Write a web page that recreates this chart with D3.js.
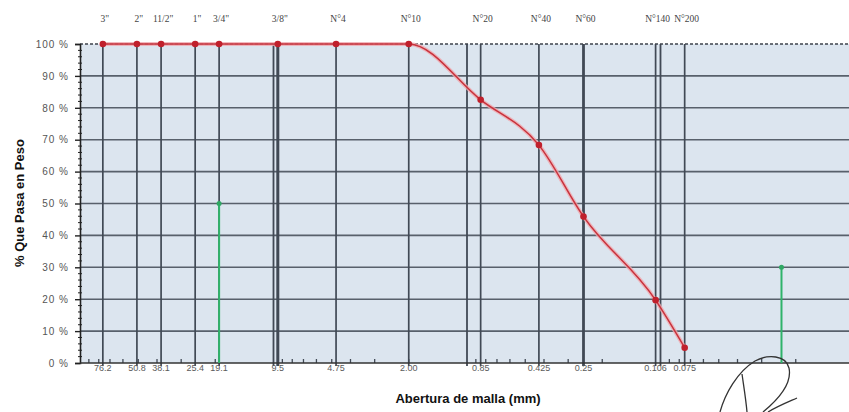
<!DOCTYPE html>
<html>
<head>
<meta charset="utf-8">
<script src="https://cdn.jsdelivr.net/npm/d3@7"></script>
<style>
  html, body { margin: 0; padding: 0; background: #ffffff; }
  svg { display: block; }
</style>
</head>
<body>
<svg id="chart" width="849" height="412"></svg>
<script>
// Sieve series: names, openings (mm) and cumulative % passing
const sieveNames = ['3"', '2"', '11/2"', '1"', '3/4"', '3/8"', 'N°4', 'N°10', 'N°20', 'N°40', 'N°60', 'N°140', 'N°200'];
const openings = [76.2, 50.8, 38.1, 25.4, 19.1, 9.5, 4.75, 2.00, 0.85, 0.425, 0.25, 0.106, 0.075];
const openingLabels = ['76.2', '50.8', '38.1', '25.4', '19.1', '9.5', '4.75', '2.00', '0.85', '0.425', '0.25', '0.106', '0.075'];
const percentPassing = [100, 100, 100, 100, 100, 100, 100, 100, 82.5, 68.3, 45.9, 19.7, 4.8];

// Green reference markers
const markerOpenings = [19.1, 0.0237];
const markerValues = [50, 30];

// Decade grid lines of the log axis
const decades = [100, 10, 1, 0.1, 0.01];
const yTicks = [0, 10, 20, 30, 40, 50, 60, 70, 80, 90, 100];

const svg = d3.select('#chart');
const plotLeft = 80, plotTop = 44, plotBottom = 363, plotRight = 849;

const x = d3.scaleLog().domain([100, 0.01]).range([plotLeft, 854]);
const y = d3.scaleLinear().domain([0, 100]).range([plotBottom, plotTop]);

const gridColor = '#414955';

// plot background
svg.append('rect')
  .attr('x', plotLeft).attr('y', plotTop)
  .attr('width', plotRight - plotLeft).attr('height', plotBottom - plotTop)
  .attr('fill', '#dce5ef');

// horizontal grid
svg.append('g').selectAll('line')
  .data(yTicks.filter(d => d > 0 && d < 100))
  .join('line')
  .attr('x1', plotLeft).attr('x2', plotRight)
  .attr('y1', d => y(d)).attr('y2', d => y(d))
  .attr('stroke', gridColor).attr('stroke-width', 1.6).attr('opacity', 0.85);

// decade vertical lines
svg.append('g').selectAll('line')
  .data(decades.filter(d => d < 100 && x(d) < plotRight))
  .join('line')
  .attr('x1', d => x(d)).attr('x2', d => x(d))
  .attr('y1', plotTop).attr('y2', plotBottom + 3)
  .attr('stroke', gridColor).attr('stroke-width', 1.8);

// sieve vertical lines
svg.append('g').selectAll('line')
  .data(openings)
  .join('line')
  .attr('x1', d => x(d)).attr('x2', d => x(d))
  .attr('y1', plotTop).attr('y2', plotBottom + 3)
  .attr('stroke', gridColor)
  .attr('stroke-width', d => d === 0.25 ? 2.8 : (d === 9.5 ? 3 : 1.7));

// minor log ticks along the bottom border
const minor = [];
decades.forEach(dec => {
  for (let k = 2; k <= 9; k++) {
    const v = dec * k / 10;
    if (v < 100 && v > 0.01) minor.push(v);
  }
});
svg.append('g').selectAll('line')
  .data(minor)
  .join('line')
  .attr('x1', d => x(d)).attr('x2', d => x(d))
  .attr('y1', plotBottom - 4).attr('y2', plotBottom)
  .attr('stroke', gridColor).attr('stroke-width', 1.3);

// top border (dashed)
svg.append('line')
  .attr('x1', plotLeft).attr('x2', plotRight)
  .attr('y1', plotTop).attr('y2', plotTop)
  .attr('stroke', '#3e434c').attr('stroke-width', 1.6)
  .attr('stroke-dasharray', '3,2');

// y axis
const yAxis = d3.axisLeft(y).tickValues(yTicks).tickFormat(d => d + ' %').tickSize(5).tickPadding(6);
const gy = svg.append('g').attr('transform', `translate(${plotLeft},0)`).call(yAxis);
gy.select('.domain').attr('stroke', '#222').attr('stroke-width', 1.6);
gy.selectAll('.tick line').attr('stroke', '#222').attr('stroke-width', 1.4);
gy.selectAll('.tick text')
  .attr('font-family', 'Liberation Sans, Arial, sans-serif')
  .attr('font-size', 10).attr('fill', '#555').attr('letter-spacing', 1);

// y minor ticks every 2 %
svg.append('g').selectAll('line')
  .data(d3.range(0, 101, 2).filter(d => d % 10 !== 0))
  .join('line')
  .attr('x1', plotLeft - 2).attr('x2', plotLeft + 2)
  .attr('y1', d => y(d)).attr('y2', d => y(d))
  .attr('stroke', '#222').attr('stroke-width', 1);

// x axis line
svg.append('line')
  .attr('x1', plotLeft).attr('x2', plotRight)
  .attr('y1', plotBottom).attr('y2', plotBottom)
  .attr('stroke', '#333').attr('stroke-width', 1.6);

// bottom opening labels
svg.append('g').selectAll('text')
  .data(openings)
  .join('text')
  .attr('x', d => x(d))
  .attr('y', 371)
  .attr('text-anchor', 'middle')
  .attr('font-family', 'Liberation Sans, Arial, sans-serif')
  .attr('font-size', 9).attr('fill', '#5a5a5a')
  .text((d, i) => openingLabels[i]);

// top sieve labels
svg.append('g').selectAll('text')
  .data(openings)
  .join('text')
  .attr('x', d => x(d) + 2)
  .attr('y', 22)
  .attr('text-anchor', 'middle')
  .attr('font-family', 'Liberation Serif, Times New Roman, serif')
  .attr('font-size', 9.5).attr('fill', '#444')
  .text((d, i) => sieveNames[i]);

// green markers
const markers = markerOpenings.map((o, i) => ({ o, v: markerValues[i] }));
svg.append('g').selectAll('line')
  .data(markers)
  .join('line')
  .attr('x1', d => x(d.o)).attr('x2', d => x(d.o))
  .attr('y1', y(0)).attr('y2', d => y(d.v))
  .attr('stroke', '#2fb36a').attr('stroke-width', 2);
svg.append('g').selectAll('circle')
  .data(markers)
  .join('circle')
  .attr('cx', d => x(d.o)).attr('cy', d => y(d.v)).attr('r', 2.5)
  .attr('fill', '#2fa864');

// gradation curve
const pts = openings.map((o, i) => ({ o, p: percentPassing[i] }));
const line = d3.line().x(d => x(d.o)).y(d => y(d.p)).curve(d3.curveMonotoneX);
svg.append('path').datum(pts).attr('d', line)
  .attr('fill', 'none').attr('stroke', '#f0a8ae').attr('stroke-width', 4).attr('opacity', 0.8);
svg.append('path').datum(pts).attr('d', line)
  .attr('fill', 'none').attr('stroke', '#c8323c').attr('stroke-width', 1.5);
svg.append('g').selectAll('circle')
  .data(pts)
  .join('circle')
  .attr('cx', d => x(d.o)).attr('cy', d => y(d.p)).attr('r', 3.3)
  .attr('fill', '#c0202c');

// axis titles
svg.append('text')
  .attr('x', 468).attr('y', 403)
  .attr('text-anchor', 'middle')
  .attr('font-family', 'Liberation Sans, Arial, sans-serif')
  .attr('font-weight', 'bold').attr('font-size', 13).attr('fill', '#111')
  .text('Abertura de malla (mm)');

svg.append('text')
  .attr('transform', 'translate(24,203) rotate(-90)')
  .attr('text-anchor', 'middle')
  .attr('font-family', 'Liberation Sans, Arial, sans-serif')
  .attr('font-weight', 'bold').attr('font-size', 13).attr('fill', '#111')
  .text('% Que Pasa en Peso');

// signature stroke
svg.append('path')
  .attr('d', 'M720,412 C725,394 737,372 755,361 C768,354 786,355 789,368 C792,382 780,398 763,412')
  .attr('fill', 'none').attr('stroke', '#333').attr('stroke-width', 1.3);
svg.append('path')
  .attr('d', 'M742,374 C744,388 746,400 747,412')
  .attr('fill', 'none').attr('stroke', '#333').attr('stroke-width', 1.3);
svg.append('path')
  .attr('d', 'M768,412 C778,406 788,402 797,398')
  .attr('fill', 'none').attr('stroke', '#333').attr('stroke-width', 1.3);
</script>
</body>
</html>
